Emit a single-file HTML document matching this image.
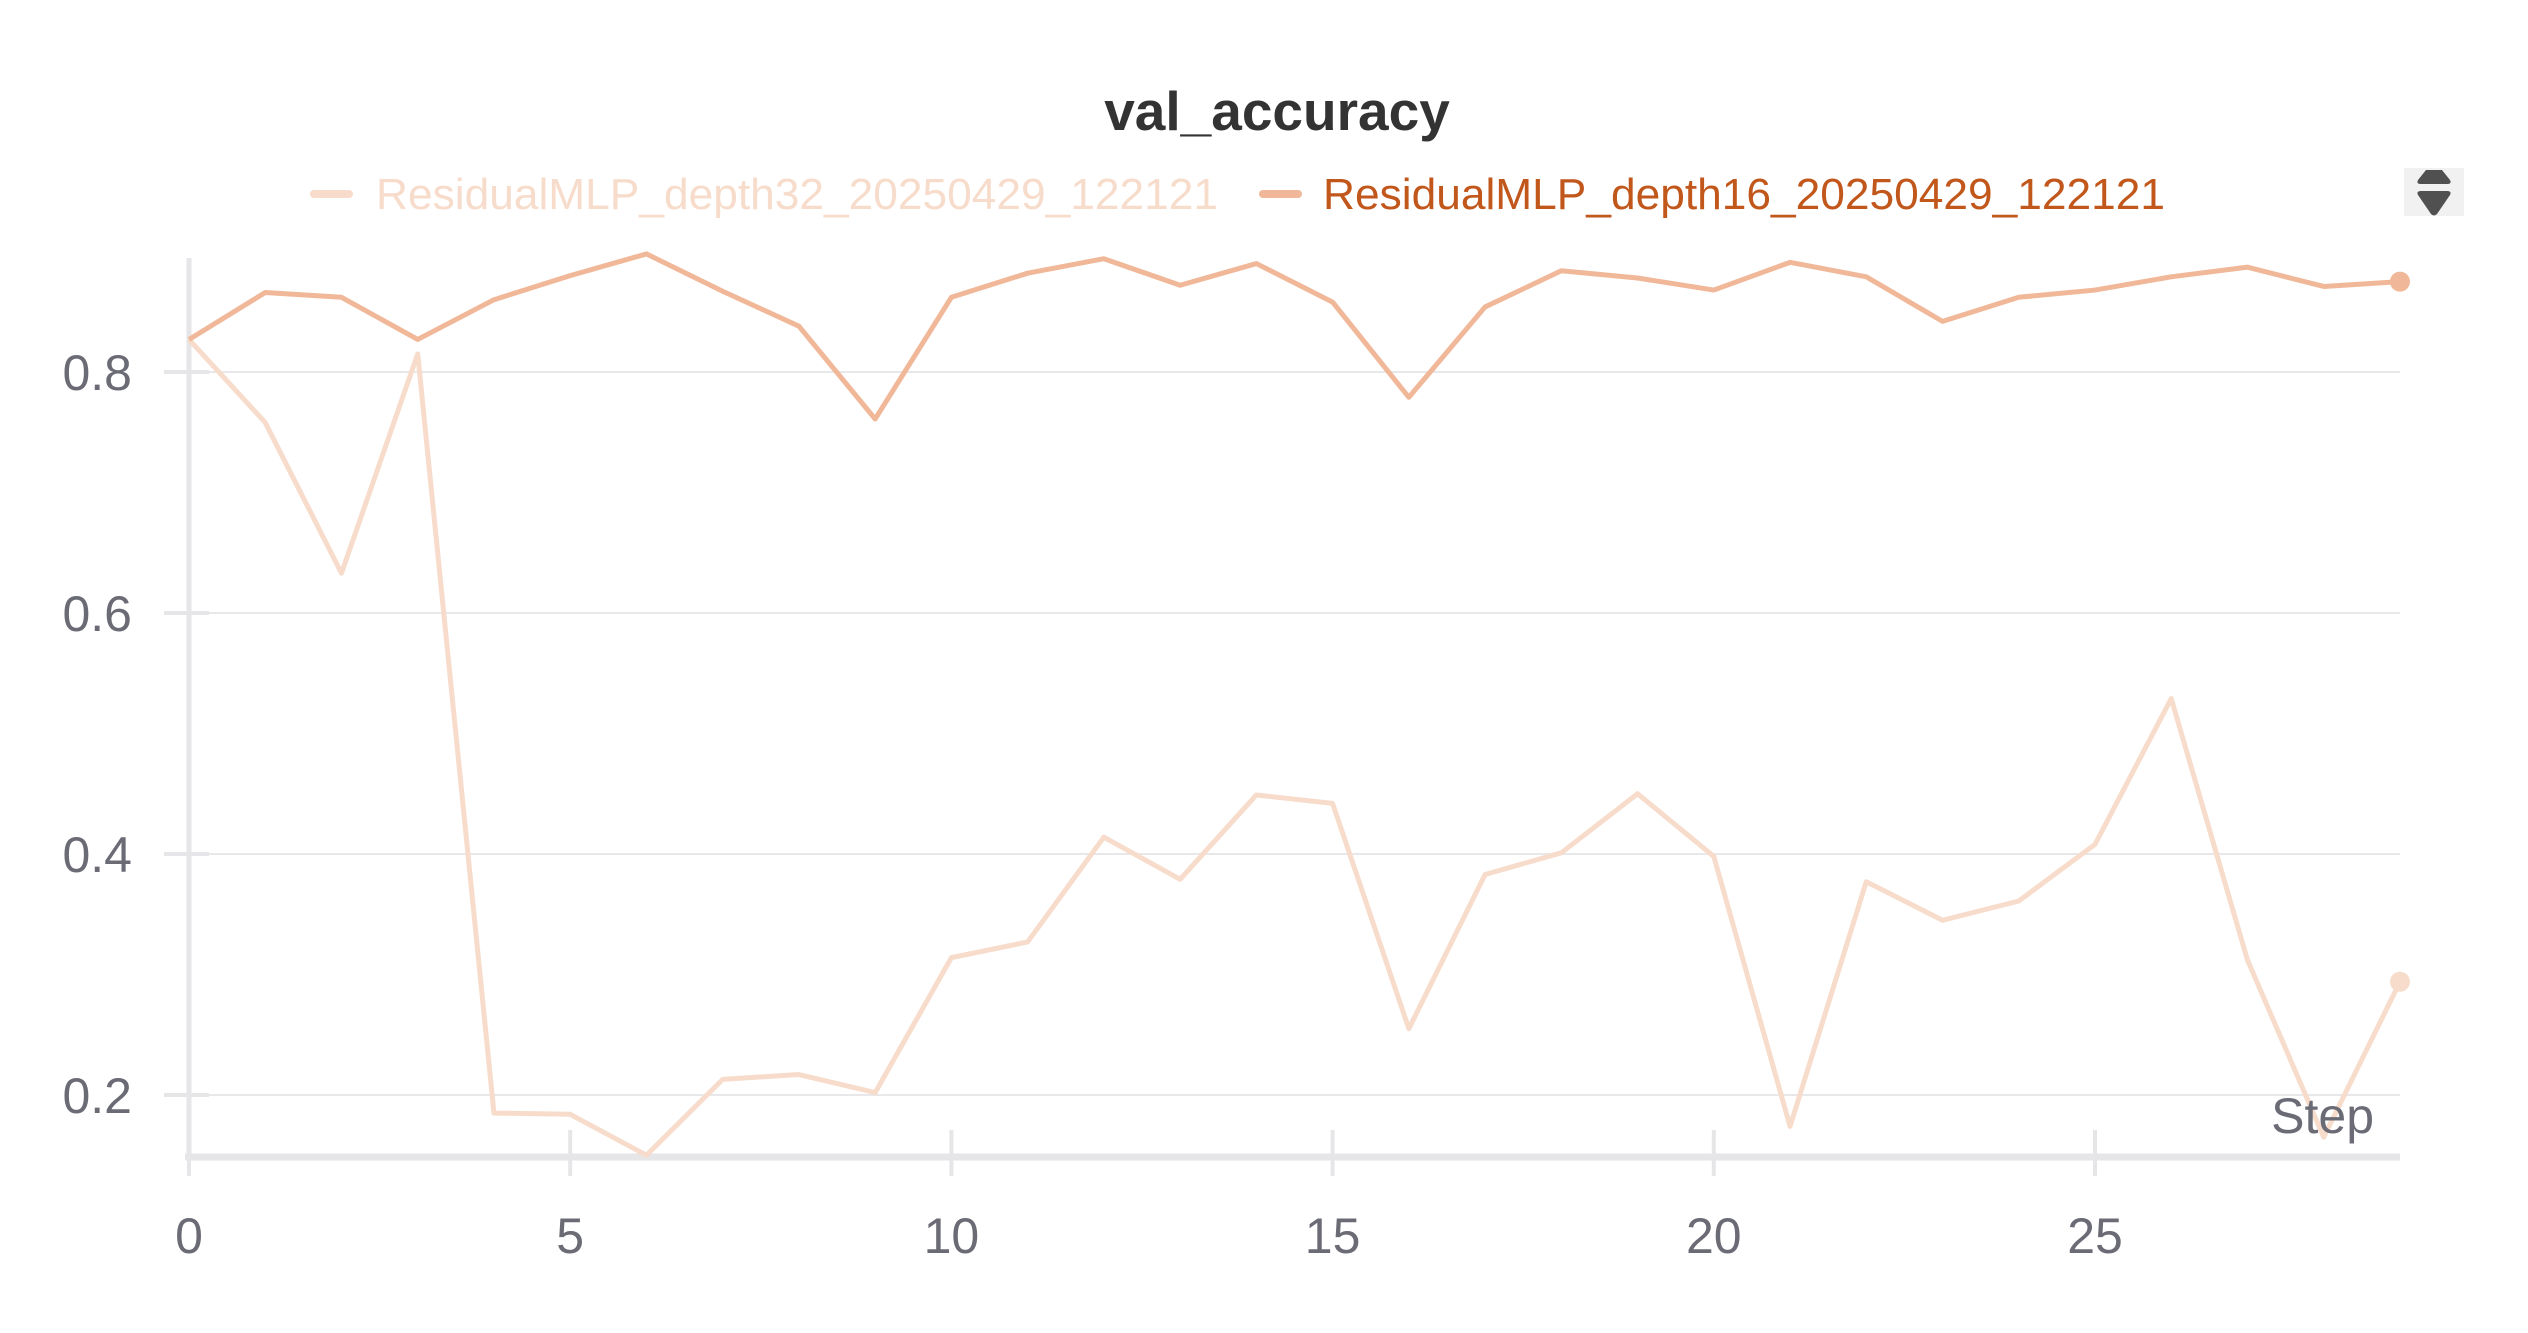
<!DOCTYPE html>
<html><head><meta charset="utf-8"><style>
html,body{margin:0;padding:0;background:#fff;}
svg text{font-family:"Liberation Sans",sans-serif;}
</style></head><body>
<svg id="chart" width="2528" height="1328" viewBox="0 0 2528 1328" xmlns="http://www.w3.org/2000/svg">
<text x="1277" y="130" text-anchor="middle" font-size="55" font-weight="bold" fill="#333">val_accuracy</text>
<g>
<line x1="314" y1="194" x2="349" y2="194" stroke="#f7dccb" stroke-width="8" stroke-linecap="round"/>
<text x="376" y="209" font-size="44" fill="#f7dccb" textLength="842" lengthAdjust="spacingAndGlyphs">ResidualMLP_depth32_20250429_122121</text>
</g>
<g>
<line x1="1263" y1="194" x2="1298" y2="194" stroke="#f0b898" stroke-width="8" stroke-linecap="round"/>
<text x="1323" y="209" font-size="44" fill="#c2571c" textLength="842" lengthAdjust="spacingAndGlyphs">ResidualMLP_depth16_20250429_122121</text>
</g>
<g>
<rect x="2404" y="168" width="60" height="48" fill="#f1f1f1"/>
<path d="M2426 170 L2442 170 L2450 180 Q2452 184 2447 184 L2421 184 Q2416 184 2418 180 Z" fill="#505050"/>
<path d="M2421 191 L2447 191 Q2452 191 2450 195 L2437 214 Q2434 217 2431 214 L2418 195 Q2416 191 2421 191 Z" fill="#505050"/>
</g>
<g id="grid"></g><g id="axes"></g><g id="series"></g>
<text x="2374" y="1133" text-anchor="end" font-size="50" fill="#6b6b76">Step</text>
</svg>
<script>
const steps = [0,1,2,3,4,5,6,7,8,9,10,11,12,13,14,15,16,17,18,19,20,21,22,23,24,25,26,27,28,29];
const depth16 = [0.827,0.866,0.862,0.827,0.860,0.880,0.898,0.867,0.838,0.761,0.862,0.882,0.894,0.872,0.890,0.858,0.779,0.854,0.884,0.878,0.868,0.891,0.879,0.842,0.862,0.868,0.879,0.887,0.871,0.875];
const depth32 = [0.827,0.758,0.633,0.815,0.185,0.184,0.150,0.213,0.217,0.202,0.314,0.327,0.414,0.379,0.449,0.442,0.255,0.383,0.401,0.450,0.398,0.174,0.377,0.345,0.361,0.408,0.529,0.312,0.165,0.294];
const yTicks = [0.2,0.4,0.6,0.8];
const yTickLabels = ["0.2","0.4","0.6","0.8"];
const xTicks = [0,5,10,15,20,25];
const xTickLabels = ["0","5","10","15","20","25"];

const NS="http://www.w3.org/2000/svg";
const X0=189, XS=76.24, Y08=372, YPER=1205;
function xs(v){return X0+v*XS;}
function ys(v){return Y08-(v-0.8)*YPER;}
function mk(tag,attrs,parent){const e=document.createElementNS(NS,tag);for(const k in attrs)e.setAttribute(k,attrs[k]);parent.appendChild(e);return e;}
const grid=document.getElementById('grid'),axes=document.getElementById('axes'),series=document.getElementById('series');
const xEnd=xs(29);
yTicks.forEach((t,i)=>{
  const g=mk('line',{x1:X0,x2:xEnd,y1:ys(t),y2:ys(t),stroke:'#e8e8ea','stroke-width':2},grid);
  
  
  const tk=mk('line',{x1:164,x2:X0+20,y1:ys(t),y2:ys(t),stroke:'#e6e6e8','stroke-width':4},axes);
  
  
  const tx=mk('text',{x:132,y:ys(t)+18,'text-anchor':'end','font-size':50,fill:'#6b6b76'},axes);
  tx.textContent=yTickLabels[i];
  
  
});
const yl=mk('line',{x1:X0,x2:X0,y1:258,y2:1160,stroke:'#e6e6e8','stroke-width':5},axes);


const xl=mk('line',{x1:X0-4,x2:xEnd,y1:1157,y2:1157,stroke:'#e6e6e8','stroke-width':7},axes);


xTicks.forEach((t,i)=>{
  const tk=mk('line',{x1:xs(t),x2:xs(t),y1:1130,y2:1176,stroke:'#e6e6e8','stroke-width':4},axes);
  
  
  const tx=mk('text',{x:xs(t),y:1253,'text-anchor':'middle','font-size':50,fill:'#6b6b76'},axes);
  tx.textContent=xTickLabels[i];
  
  
});
function drawLine(vals,color,name){
  const pts=vals.map((v,i)=>xs(steps[i])+','+ys(v)).join(' ');
  const p=mk('polyline',{points:pts,fill:'none',stroke:color,'stroke-width':5,'stroke-linejoin':'round'},series);
  
  
  const n=vals.length-1;
  const c=mk('circle',{cx:xs(steps[n]),cy:ys(vals[n]),r:10,fill:color},series);
  
  
}
drawLine(depth32,'#f7dccb','depth32');
drawLine(depth16,'#f0b898','depth16');
</script>
</body></html>
